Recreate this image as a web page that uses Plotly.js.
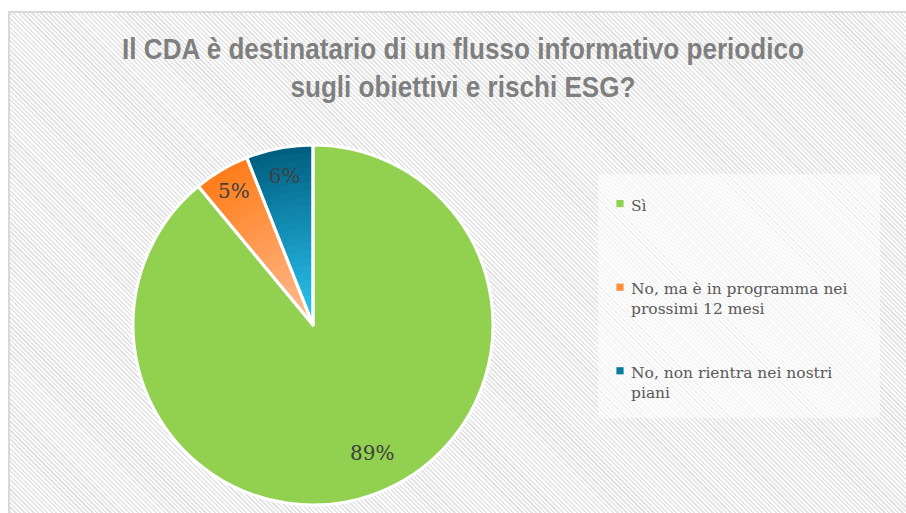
<!DOCTYPE html>
<html>
<head>
<meta charset="utf-8">
<script src="https://cdn.plot.ly/plotly-3.0.1.min.js"></script>
<style>
  html, body { margin: 0; padding: 0; background: #ffffff; }
  #wrap { position: relative; width: 906px; height: 513px; overflow: hidden; }
  #hatch {
    position: absolute; left: 8px; top: 11px; width: 920px; height: 520px;
    border-left: 2px solid #d9d9d9; border-top: 2px solid #d9d9d9;
    background: repeating-linear-gradient(45deg, #ffffff 0px, #ffffff 1.6px, #e4e4e4 1.6px, #e4e4e4 3.2px);
  }
  #chart { position: absolute; left: 0; top: 0; width: 906px; height: 513px; }
  .legend .legendpoints path { transform: translate(29px, -1px) scale(0.6); }
  .gtitle { transform-box: fill-box; transform-origin: center; transform: scaleX(0.9); }
</style>
</head>
<body>
<div id="wrap">
  <div id="hatch"></div>
  <div id="chart"></div>
</div>
<script>
// ---- data ----
const categories = ["Sì", "No, ma è in programma nei<br>prossimi 12 mesi", "No, non rientra nei nostri<br>piani"];
const values = [89, 5, 6];
const titleText = "Il CDA è destinatario di un flusso informativo periodico<br>sugli obiettivi e rischi ESG?";

// ---- styling ----
const W = 906, H = 513;
const cx = 313, cy = 325, R = 180;
const outerCols = [[146, 208, 80], [255, 124, 24], [0, 94, 128]];
const innerCols = [[146, 208, 80], [255, 190, 150], [44, 200, 245]];
const blankPad = ["<br>\u00a0<br>\u00a0<br>\u00a0", "<br>\u00a0<br>\u00a0", "<br>\u00a0<br>\u00a0"];
const legendLabels = categories.map((c, i) => c + blankPad[i]);

function mix(a, b, t) {
  return 'rgb(' + a.map((v, i) => Math.round(v + (b[i] - v) * t)).join(',') + ')';
}
function domainFor(f) {
  const r = R * f;
  return { x: [(cx - r) / W, (cx + r) / W], y: [1 - (cy + r) / H, 1 - (cy - r) / H] };
}

const traces = [];
const N = 24;
for (let k = 0; k < N; k++) {
  const f = 1 - k / N;
  const tMid = 1 - (f - 0.5 / N);
  traces.push({
    type: 'pie', labels: legendLabels, values: values,
    sort: false, direction: 'clockwise', rotation: 0,
    domain: domainFor(f),
    marker: { colors: outerCols.map((c, i) => mix(c, innerCols[i], tMid)), line: { width: 0 } },
    textinfo: 'none', hoverinfo: 'skip',
    showlegend: k === 6
  });
}
// overlay: white separators, percentages for the small slices
traces.push({
  type: 'pie', labels: legendLabels, values: values,
  sort: false, direction: 'clockwise', rotation: 0,
  domain: domainFor(1),
  marker: { colors: values.map(() => 'rgba(0,0,0,0)'), line: { color: '#ffffff', width: 3 } },
  texttemplate: values.map((v, i) => i === 0 ? '' : '%{percent}'),
  textposition: 'inside', insidetextorientation: 'horizontal',
  insidetextfont: { family: 'DejaVu Serif', size: 20, color: '#404040' },
  hoverinfo: 'label+percent',
  showlegend: false
});

// label for the large slice, placed from its mid-angle
const total = values.reduce((a, b) => a + b, 0);
const theta0 = 2 * Math.PI * (values[0] / 2) / total;
const rl = 0.78 * R;
const bigLabel = {
  xref: 'paper', yref: 'paper',
  x: (cx + rl * Math.sin(theta0)) / W,
  y: 1 - (cy - rl * Math.cos(theta0)) / H,
  text: Math.round(values[0] / total * 100) + '%',
  showarrow: false, xshift: 11, yshift: -10,
  font: { family: 'DejaVu Serif', size: 20, color: '#404040' }
};

const layout = {
  width: W, height: H,
  margin: { l: 0, r: 0, t: 0, b: 0 },
  paper_bgcolor: 'rgba(0,0,0,0)',
  plot_bgcolor: 'rgba(0,0,0,0)',
  title: {
    text: titleText,
    font: { family: 'Liberation Sans, Arial, sans-serif', size: 29, color: '#7f7f7f', weight: 'bold' },
    x: 463 / W, xanchor: 'center',
    y: 1 - 59 / H, yanchor: 'top', yref: 'container'
  },
  showlegend: true,
  legend: {
    x: 591 / W, xanchor: 'left',
    y: 1 - 188 / H, yanchor: 'top',
    bgcolor: 'rgba(0,0,0,0)',
    font: { family: 'DejaVu Serif', size: 15.5, color: '#595959' },
    valign: 'top',
    traceorder: 'normal'
  },
  annotations: [bigLabel],
  shapes: [{
    type: 'rect', xref: 'paper', yref: 'paper', layer: 'below',
    x0: 598 / W, x1: 880 / W, y0: 1 - 418 / H, y1: 1 - 174 / H,
    fillcolor: 'rgba(255,255,255,0.55)', line: { width: 0 }
  }]
};

Plotly.newPlot('chart', traces, layout, { displayModeBar: false, staticPlot: true });
</script>
</body>
</html>
